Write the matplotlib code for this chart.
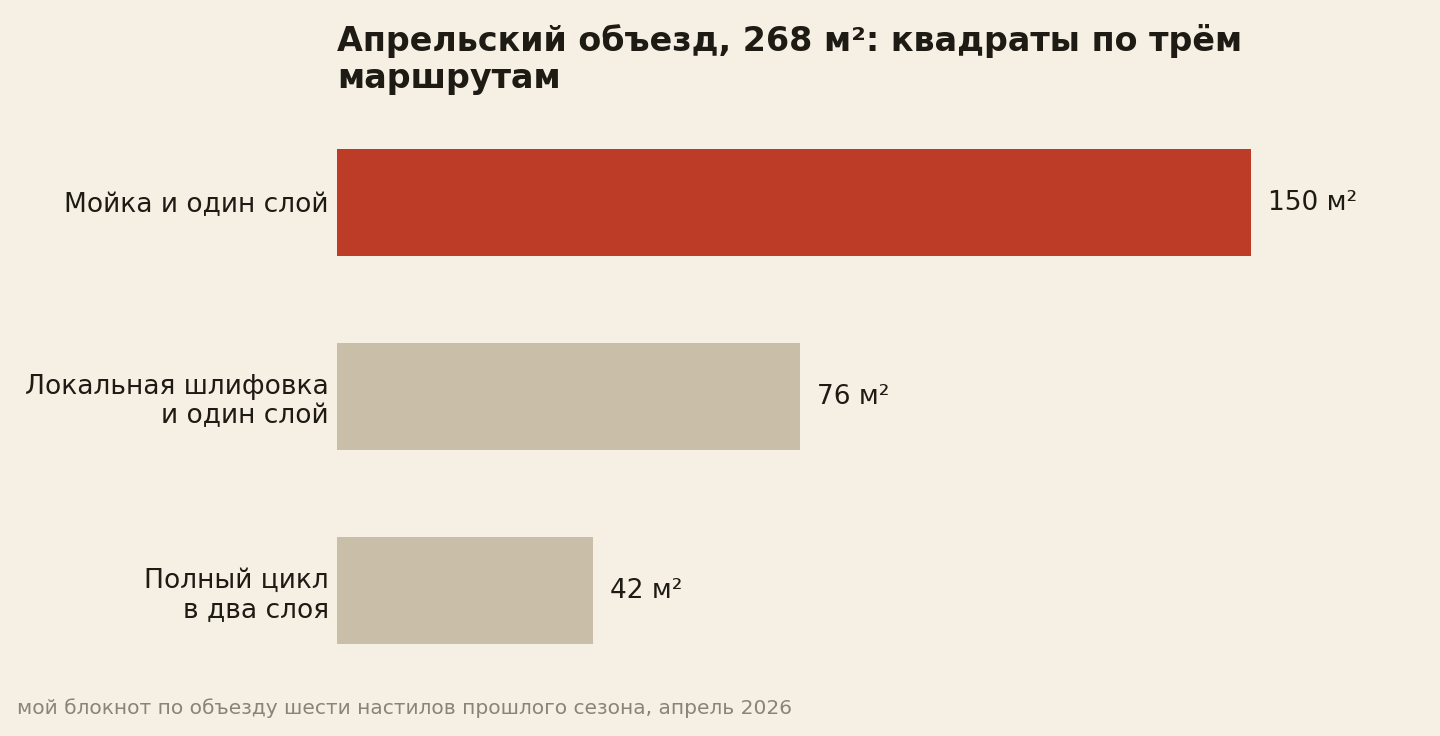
import matplotlib
matplotlib.use("Agg")
import matplotlib.pyplot as plt

categories = ["Мойка и один слой", "Локальная шлифовка\nи один слой", "Полный цикл\nв два слоя"]
values = [150, 76, 42]
value_labels = ["150 м²", "76 м²", "42 м²"]
title = "Апрельский объезд, 268 м²: квадраты по трём\nмаршрутам"
footnote = "мой блокнот по объезду шести настилов прошлого сезона, апрель 2026"

BG = "#f6f0e4"
RED = "#bd3c27"
BEIGE = "#c9bfa8"
TEXT = "#1e1a14"
GRAY = "#8a8477"

W, H = 1440, 736
fig = plt.figure(figsize=(W / 100, H / 100), dpi=100, facecolor=BG)
left, right = 337 / W, 1400 / W
top, bottom = 1 - 105.5 / H, 1 - 687.5 / H
ax = fig.add_axes([left, bottom, right - left, top - bottom])
ax.set_facecolor(BG)

colors = [RED, BEIGE, BEIGE]
ypos = list(range(len(categories)))
ax.barh(ypos, values, height=0.55, color=colors, edgecolor="none")
ax.set_ylim(len(categories) - 0.5, -0.5)
ax.set_xlim(0, 150 * (1400 - 337) / 914)
for y, v, lab in zip(ypos, values, value_labels):
    ax.annotate(lab, (v, y), xytext=(17, 0), textcoords="offset pixels",
                va="center", ha="left", fontsize=19, color=TEXT)
ax.set_yticks(ypos)
ax.set_yticklabels(categories, fontsize=19.1, color=TEXT, linespacing=1.2)
ax.tick_params(axis="y", length=0, pad=6)
ax.set_xticks([])
for s in ax.spines.values():
    s.set_visible(False)

fig.text(left, 1 - 24 / H, title, ha="left", va="top", fontsize=24,
         fontweight="bold", color=TEXT, linespacing=1.15)
fig.text(17 / W, 1 - 708 / H, footnote, ha="left", va="center",
         fontsize=14.5, color=GRAY)

fig.savefig("out.png", dpi=100, facecolor=BG)
